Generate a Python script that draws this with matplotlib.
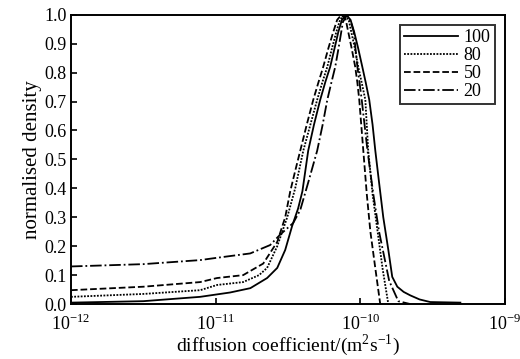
import numpy as np
import matplotlib
matplotlib.use("Agg")
import matplotlib.pyplot as plt

plt.rcParams['font.family'] = ['Liberation Serif', 'DejaVu Serif']
plt.rcParams['mathtext.fontset'] = 'custom'
plt.rcParams['mathtext.rm'] = 'Liberation Serif'

# log10 of diffusion coefficient and normalised density
x100 = [-12.0, -11.5, -11.107, -10.90, -10.76, -10.644, -10.574, -10.519, -10.471, -10.43,
        -10.40, -10.36, -10.32, -10.277, -10.24, -10.208, -10.175, -10.152, -10.127, -10.097,
        -10.067, -10.042, -10.015, -9.986, -9.962, -9.938, -9.915, -9.896, -9.87, -9.841,
        -9.806, -9.779, -9.744, -9.70, -9.654, -9.59, -9.516, -9.308]
y100 = [0.005, 0.01, 0.025, 0.04, 0.055, 0.09, 0.125, 0.187, 0.27, 0.33,
        0.39, 0.53, 0.62, 0.706, 0.77, 0.82, 0.89, 0.94, 0.982, 1.0,
        0.982, 0.94, 0.885, 0.82, 0.765, 0.706, 0.62, 0.53, 0.42, 0.30,
        0.187, 0.094, 0.06, 0.042, 0.03, 0.016, 0.007, 0.005]

x80 = [-12.0, -11.5, -11.107, -10.99, -10.81, -10.70, -10.644, -10.574, -10.505, -10.45,
       -10.394, -10.345, -10.298, -10.26, -10.228, -10.195, -10.166, -10.14, -10.11, -10.08,
       -10.062, -10.038, -10.014, -9.99, -9.965, -9.945, -9.915, -9.88, -9.845, -9.806]
y80 = [0.025, 0.035, 0.048, 0.066, 0.076, 0.10, 0.125, 0.2, 0.30, 0.40,
       0.53, 0.62, 0.706, 0.77, 0.82, 0.885, 0.94, 0.982, 1.0, 0.982,
       0.94, 0.885, 0.82, 0.765, 0.706, 0.53, 0.38, 0.25, 0.12, 0.0]

x50 = [-12.0, -11.5, -11.107, -10.99, -10.81, -10.671, -10.574, -10.519, -10.484, -10.45,
       -10.415, -10.37, -10.325, -10.29, -10.256, -10.22, -10.187, -10.16, -10.13, -10.10,
       -10.083, -10.06, -10.035, -10.02, -10.007, -9.979, -9.955, -9.93, -9.895, -9.862]
y50 = [0.048, 0.06, 0.076, 0.09, 0.10, 0.14, 0.215, 0.30, 0.39, 0.46,
       0.53, 0.62, 0.706, 0.765, 0.82, 0.885, 0.94, 0.982, 1.0, 0.982,
       0.94, 0.885, 0.82, 0.765, 0.706, 0.53, 0.38, 0.25, 0.12, 0.0]

x20 = [-12.0, -11.5, -11.107, -10.99, -10.761, -10.623, -10.554, -10.464, -10.415, -10.36,
       -10.298, -10.26, -10.228, -10.20, -10.173, -10.15, -10.12, -10.09, -10.065, -10.045,
       -10.02, -10.005, -9.99, -9.95, -9.91, -9.87, -9.80, -9.737, -9.654]
y20 = [0.13, 0.138, 0.152, 0.16, 0.175, 0.204, 0.24, 0.28, 0.325, 0.42,
       0.53, 0.62, 0.706, 0.765, 0.82, 0.885, 0.975, 1.0, 0.975, 0.94,
       0.82, 0.765, 0.706, 0.53, 0.38, 0.25, 0.08, 0.01, 0.0]

labels = ['100', '80', '50', '20']
styles = ['-', (0, (1, 0.8)), '--', '-.']
xticks = [1e-12, 1e-11, 1e-10, 1e-9]
xticklabels = ['$10^{-12}$', '$10^{-11}$', '$10^{-10}$', '$10^{-9}$']

fig = plt.figure(figsize=(5.2, 3.59), dpi=100)
ax = fig.add_axes([0.1365, 0.153, 0.8345, 0.806])

for xs, ys, lab, ls in zip([x100, x80, x50, x20], [y100, y80, y50, y20], labels, styles):
    ax.plot(10 ** np.array(xs), ys, linestyle=ls, color='black', lw=1.3, label=lab)

ax.set_xscale('log')
ax.set_xlim(1e-12, 1e-9)
ax.set_ylim(0, 1.0)
ax.set_xticks(xticks)
ax.set_xticklabels(xticklabels)
ax.xaxis.set_minor_locator(matplotlib.ticker.NullLocator())
ax.set_yticks(np.arange(0, 1.01, 0.1))
ax.set_yticklabels(['%.1f' % v for v in np.arange(0, 1.01, 0.1)])
ax.tick_params(direction='in', length=4, width=1.2, labelsize=13, pad=3)
ax.tick_params(axis='x', pad=7)
for sp in ax.spines.values():
    sp.set_linewidth(1.4)

ax.set_xlabel('diffusion coefficient/(m$^{2}$s$^{-1}$)', fontsize=14, labelpad=-1)
ax.set_ylabel('normalised density', fontsize=15, labelpad=2)

leg = ax.legend(loc='upper right', fontsize=13, frameon=True, fancybox=False,
                handlelength=3.0, handletextpad=0.3, labelspacing=0.05,
                borderpad=0.25, borderaxespad=0.55)
leg.get_frame().set_edgecolor('black')
leg.get_frame().set_linewidth(1.4)

fig.savefig('out.png', dpi=100)
